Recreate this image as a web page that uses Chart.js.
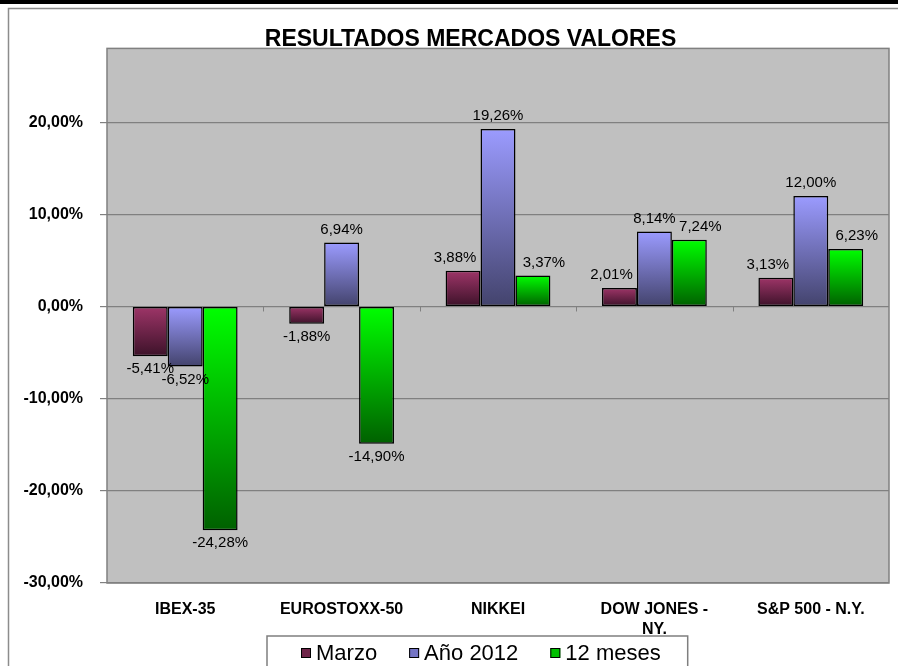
<!DOCTYPE html>
<html lang="es">
<head>
<meta charset="utf-8">
<style>
  html, body { margin: 0; padding: 0; background: #ffffff; }
  #wrap { width: 898px; height: 666px; }
</style>
</head>
<body>
<div id="wrap"><canvas id="myChart" width="898" height="666"></canvas></div>
<script src="https://cdn.jsdelivr.net/npm/chart.js"></script>
<script>
// values (percent)
const mercados = ['IBEX-35', 'EUROSTOXX-50', 'NIKKEI', ['DOW JONES -', 'NY.'], 'S&P 500 - N.Y.'];
const marzo = [-5.41, -1.88, 3.88, 2.01, 3.13];
const ano2012 = [-6.52, 6.94, 19.26, 8.14, 12.00];
const doceMeses = [-24.28, -14.90, 3.37, 7.24, 6.23];
const seriesNames = ['Marzo', 'Año 2012', '12 meses'];
const yTicks = [-30, -20, -10, 0, 10, 20];

const FONT = '"Liberation Sans", Arial, sans-serif';

// top / bottom colours of each bar's vertical gradient
const gradTops = ['#9e3568', '#9b9bff', '#00ff00'];
const gradBottoms = ['#3c1229', '#43436c', '#006000'];
const legendFill = ['#6e2448', '#7474c4', '#00c000'];

function pct(v) {
  return v.toFixed(2).replace('.', ',') + '%';
}

function barGradient(context) {
  const chart = context.chart;
  const i = context.datasetIndex;
  const yScale = chart.scales.y;
  if (!chart.chartArea || !yScale || context.type !== 'data') return gradTops[i];
  const v = context.raw;
  const yv = yScale.getPixelForValue(v);
  const y0 = yScale.getPixelForValue(0);
  const top = Math.min(yv, y0), bottom = Math.max(yv, y0);
  if (!isFinite(top) || bottom - top < 1) return gradTops[i];
  const g = chart.ctx.createLinearGradient(0, top, 0, bottom);
  g.addColorStop(0, gradTops[i]);
  g.addColorStop(1, gradBottoms[i]);
  return g;
}

const framePlugin = {
  id: 'frame',
  afterLayout(chart) {
    // centre the title a bit right of the canvas middle, like the original
    if (chart.titleBlock) chart.titleBlock.left = 52;
  },
  beforeDraw(chart) {
    const ctx = chart.ctx;
    const a = chart.chartArea;
    ctx.save();
    ctx.fillStyle = '#ffffff';
    ctx.fillRect(0, 0, chart.width, chart.height);
    // outer picture border
    ctx.fillStyle = '#000000';
    ctx.fillRect(0, 0, chart.width, 4);
    ctx.strokeStyle = '#8c8c8c';
    ctx.lineWidth = 1.5;
    ctx.beginPath();
    ctx.moveTo(8.5, chart.height);
    ctx.lineTo(8.5, 8.5);
    ctx.lineTo(chart.width, 8.5);
    ctx.stroke();
    // plot area
    ctx.fillStyle = '#c0c0c0';
    ctx.fillRect(a.left, a.top, a.right - a.left, a.bottom - a.top);
    ctx.restore();
  },
  beforeDatasetsDraw(chart) {
    const ctx = chart.ctx;
    const a = chart.chartArea;
    const x = chart.scales.x;
    const y0 = chart.scales.y.getPixelForValue(0);
    ctx.save();
    ctx.strokeStyle = '#808080';
    ctx.lineWidth = 1.5;
    ctx.strokeRect(a.left, a.top, a.right - a.left, a.bottom - a.top);
    // little category ticks hanging under the zero line
    ctx.lineWidth = 1;
    ctx.beginPath();
    for (let i = 0; i < mercados.length - 1; i++) {
      const bx = Math.round((x.getPixelForTick(i) + x.getPixelForTick(i + 1)) / 2) + 0.5;
      ctx.moveTo(bx, y0);
      ctx.lineTo(bx, y0 + 5);
    }
    ctx.stroke();
    ctx.restore();
  },
  afterDatasetsDraw(chart) {
    const ctx = chart.ctx;
    const shiftUp = [-8, 0, 11];
    ctx.save();
    ctx.font = '15px ' + FONT;
    ctx.fillStyle = '#000000';
    ctx.textAlign = 'center';
    ctx.textBaseline = 'middle';
    chart.data.datasets.forEach((ds, di) => {
      const meta = chart.getDatasetMeta(di);
      meta.data.forEach((el, j) => {
        const v = ds.data[j];
        const dx = v >= 0 ? shiftUp[di] : 0;
        const y = v >= 0 ? el.y - 13 : el.y + 13;
        ctx.fillText(pct(v), el.x + dx, y);
      });
    });
    ctx.restore();
  },
  afterDraw(chart) {
    // legend box below the category labels
    const ctx = chart.ctx;
    ctx.save();
    ctx.font = '22px ' + FONT;
    ctx.textBaseline = 'middle';
    const boxLeft = 267, boxTop = 636, marker = 10, gap = 5, itemGap = 32;
    let x = boxLeft + 34;
    const cy = 653;
    const ends = [];
    chart.data.datasets.forEach((ds, i) => {
      ctx.fillStyle = legendFill[i];
      ctx.fillRect(x, cy - 5, marker, marker);
      ctx.strokeStyle = '#000000';
      ctx.lineWidth = 1;
      ctx.strokeRect(x + 0.5, cy - 4.5, marker - 1, marker - 1);
      ctx.fillStyle = '#000000';
      ctx.textAlign = 'left';
      ctx.fillText(ds.label, x + marker + gap, cy + 1);
      x += marker + gap + ctx.measureText(ds.label).width;
      ends.push(x);
      x += itemGap;
    });
    const boxRight = ends[ends.length - 1] + 27;
    ctx.strokeStyle = '#7f7f7f';
    ctx.lineWidth = 1.5;
    ctx.beginPath();
    ctx.moveTo(boxLeft, chart.height + 2);
    ctx.lineTo(boxLeft, boxTop);
    ctx.lineTo(boxRight, boxTop);
    ctx.lineTo(boxRight, chart.height + 2);
    ctx.stroke();
    ctx.restore();
  }
};

const data = {
  labels: mercados,
  datasets: [
    { label: seriesNames[0], data: marzo },
    { label: seriesNames[1], data: ano2012 },
    { label: seriesNames[2], data: doceMeses }
  ].map(d => Object.assign(d, {
    backgroundColor: barGradient,
    borderColor: '#000000',
    borderWidth: 1.5,
    borderSkipped: false,
    barPercentage: 1,
    categoryPercentage: 0.67
  }))
};

const config = {
  type: 'bar',
  data: data,
  options: {
    responsive: false,
    animation: false,
    layout: { padding: { left: 0, right: 9, top: 0, bottom: 0 } },
    plugins: {
      legend: { display: false },
      tooltip: { enabled: false },
      title: {
        display: true,
        text: 'RESULTADOS MERCADOS VALORES',
        color: '#000000',
        font: { family: FONT, size: 23, weight: 'bold', lineHeight: 0.8 },
        padding: { top: 30, bottom: 0 }
      }
    },
    scales: {
      x: {
        grid: { display: false, drawTicks: false },
        border: { display: false },
        ticks: {
          color: '#000000',
          padding: 17,
          maxRotation: 0,
          autoSkip: false,
          font: { family: FONT, size: 16, weight: 'bold', lineHeight: 1.25 }
        },
        afterFit(scale) { scale.height = 83; }
      },
      y: {
        min: -30,
        max: 28,
        grid: { color: '#808080', lineWidth: 1.2, tickLength: 7, drawTicks: true },
        border: { display: false },
        ticks: {
          color: '#000000',
          padding: 17,
          stepSize: 10,
          font: { family: FONT, size: 16, weight: 'bold' },
          callback: v => pct(v)
        },
        afterBuildTicks(scale) {
          scale.ticks = yTicks.map(v => ({ value: v }));
        },
        afterFit(scale) { scale.width = 107; }
      }
    }
  },
  plugins: [framePlugin]
};

const myChart = new Chart(document.getElementById('myChart'), config);
</script>
</body>
</html>
